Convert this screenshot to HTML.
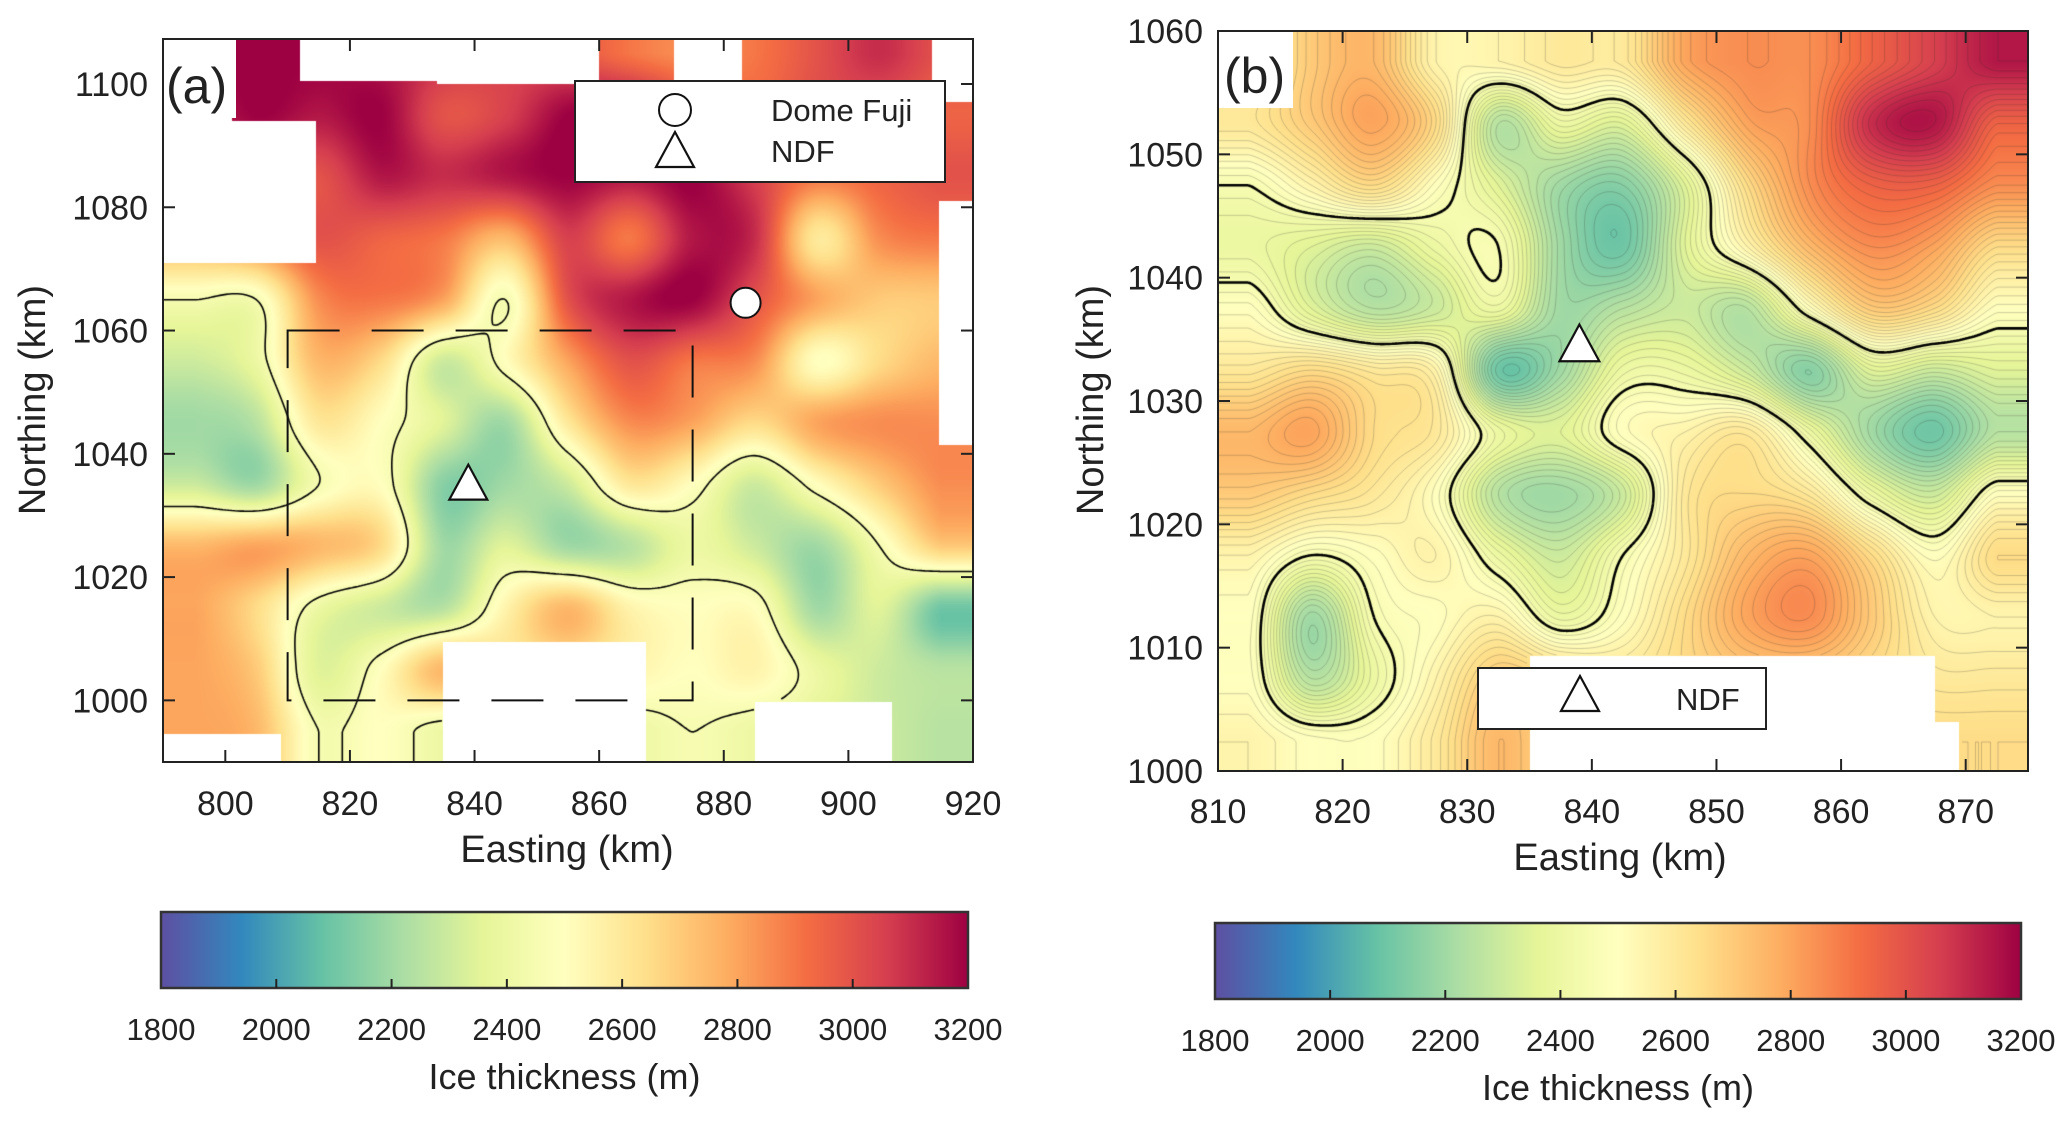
<!DOCTYPE html>
<html><head><meta charset="utf-8">
<style>
html,body{margin:0;padding:0;background:#fff;}
#wrap{position:relative;width:2067px;height:1122px;overflow:hidden;font-family:"Liberation Sans",Arial,sans-serif;}
canvas{position:absolute;}
svg{position:absolute;left:0;top:0;}
</style></head>
<body>
<div id="wrap">
<canvas id="ca"></canvas>
<canvas id="cb"></canvas>
<svg id="ov" width="2067" height="1122"></svg>
</div>
<script>
// ---------- data ----------
const cmapValues = [1800,1940,2080,2220,2360,2500,2640,2780,2920,3060,3200];
const cmapColors = ["#5e4fa2","#3288bd","#66c2a5","#abdda4","#e6f598","#ffffbf","#fee08b","#fdae61","#f46d43","#d53e4f","#9e0142"];
const cbTicks = [1800,2000,2200,2400,2600,2800,3000,3200];

const aEast = [795,805,815,825,835,845,855,865,875,885,895,905,915];
const aNorth = [1105,1095,1085,1075,1065,1055,1045,1035,1025,1015,1005,995];
const aThick = [
[3200,3200,3200,3150,3100,3050,3000,2900,2850,2900,3000,3100,3000],
[3100,3200,3150,3200,3000,3050,3200,3200,3050,2950,3000,3000,2950],
[3000,3050,3000,3150,3100,3150,3200,3150,3200,3050,2900,2950,3000],
[2800,2900,3000,2950,2900,2750,3050,2900,3150,3100,2600,2850,2900],
[2450,2450,2850,2900,2800,2450,3000,3150,3200,3000,2800,2700,2700],
[2300,2400,2750,2650,2300,2500,2800,3000,2900,2850,2500,2650,2750],
[2200,2250,2600,2500,2350,2200,2600,2850,2800,2650,2800,2850,2850],
[2300,2200,2450,2500,2150,2200,2300,2600,2500,2300,2500,2700,2850],
[2750,2800,2750,2650,2200,2350,2200,2250,2400,2300,2200,2450,2700],
[2800,2650,2400,2300,2250,2550,2750,2550,2500,2500,2200,2350,2100],
[2800,2700,2350,2500,2750,2600,2600,2550,2500,2550,2400,2300,2250],
[2800,2750,2450,2500,2400,2400,2400,2400,2450,2400,2350,2300,2250]
];
// no-data regions [east0, east1, north0, north1]
const aNoData = [
[790,801,1094,1108],[790,814.5,1071,1094],[812,834,1100.5,1108],[834,860,1100,1108],
[872,883,1098.5,1108],[913.5,920,1097,1108],[914.5,920,1041.5,1081],
[835,867.5,989,1009.4],[790,809,989,994.5],[885,907,989,999.8]
];
const aXTicks = [800,820,840,860,880,900,920];
const aYTicks = [1000,1020,1040,1060,1080,1100];
const domeFuji = [883.5,1064.5];
const ndf = [839,1035];
const subRegion = [810,875,1000,1060];

const bEast = [812.5,817.5,822.5,827.5,832.5,837.5,842.5,847.5,852.5,857.5,862.5,867.5,872.5];
const bNorth = [1057.5,1052.5,1047.5,1042.5,1037.5,1032.5,1027.5,1022.5,1017.5,1012.5,1007.5,1002.5];
const bThick = [
[2550,2700,2750,2550,2550,2600,2600,2800,2850,2850,2950,3050,3150],
[2600,2700,2800,2650,2250,2400,2350,2600,2800,2850,3100,3150,2950],
[2450,2550,2650,2500,2350,2200,2150,2350,2650,2850,2950,2950,2850],
[2400,2350,2300,2400,2450,2200,2100,2350,2550,2750,2850,2800,2650],
[2500,2350,2250,2300,2400,2200,2250,2300,2250,2500,2700,2650,2500],
[2600,2650,2600,2550,2100,2200,2400,2400,2300,2150,2350,2300,2350],
[2750,2800,2650,2600,2400,2350,2500,2550,2600,2400,2200,2100,2250],
[2700,2650,2600,2500,2250,2200,2300,2600,2650,2600,2400,2300,2500],
[2550,2450,2500,2550,2400,2300,2450,2600,2750,2800,2650,2500,2650],
[2500,2200,2450,2500,2550,2400,2500,2650,2800,2850,2700,2550,2550],
[2500,2250,2400,2550,2700,2650,2600,2650,2700,2700,2650,2600,2600],
[2550,2500,2500,2600,2750,2650,2600,2600,2650,2650,2650,2650,2650]
];
const bNoData = [[835,867.5,999,1009.3],[867.5,869.5,999,1004]];
const bXTicks = [810,820,830,840,850,860,870];
const bYTicks = [1000,1010,1020,1030,1040,1050,1060];
const bNdf = [839,1034.5];
const contourLevel = 2450;

// ---------- helpers ----------
const NS="http://www.w3.org/2000/svg";
const ov=document.getElementById('ov');
function el(tag,attrs,parent){const e=document.createElementNS(NS,tag);for(const k in attrs)e.setAttribute(k,attrs[k]);(parent||ov).appendChild(e);return e;}
function hex(h){return [parseInt(h.slice(1,3),16),parseInt(h.slice(3,5),16),parseInt(h.slice(5,7),16)];}
const cmapRGB=cmapColors.map(hex);
function color(v){
  if(v<=cmapValues[0])return cmapRGB[0];
  for(let i=1;i<cmapValues.length;i++){if(v<=cmapValues[i]){const t=(v-cmapValues[i-1])/(cmapValues[i]-cmapValues[i-1]);const a=cmapRGB[i-1],b=cmapRGB[i];return [a[0]+(b[0]-a[0])*t,a[1]+(b[1]-a[1])*t,a[2]+(b[2]-a[2])*t];}}
  return cmapRGB[cmapRGB.length-1];
}
function cr(p0,p1,p2,p3,t){return 0.5*((2*p1)+(-p0+p2)*t+(2*p0-5*p1+4*p2-p3)*t*t+(-p0+3*p1-3*p2+p3)*t*t*t);}
function makeField(xs,ys,g,mask){
  const dx=xs[1]-xs[0],dy=ys[1]-ys[0],nx=xs.length,ny=ys.length;
  const G=(j,i)=>g[Math.min(ny-1,Math.max(0,j))][Math.min(nx-1,Math.max(0,i))];
  return function(X,Y){
    for(const m of mask){if(X>=m[0]&&X<=m[1]&&Y>=m[2]&&Y<=m[3])return NaN;}
    const fi=Math.min(nx-1,Math.max(0,(X-xs[0])/dx)),fj=Math.min(ny-1,Math.max(0,(Y-ys[0])/dy));
    const i0=Math.min(nx-2,Math.floor(fi)),j0=Math.min(ny-2,Math.floor(fj));
    const tx=fi-i0,ty=fj-j0;const r=[];
    for(let k=-1;k<=2;k++){const j=j0+k;r.push(cr(G(j,i0-1),G(j,i0),G(j,i0+1),G(j,i0+2),tx));}
    return cr(r[0],r[1],r[2],r[3],ty);
  };
}
function drawPanel(canvasId,ax,xs,ys,g,mask,levels){
  const cv=document.getElementById(canvasId);
  const W=ax.x1-ax.x0,H=ax.y1-ax.y0;
  cv.width=W;cv.height=H;cv.style.left=ax.x0+'px';cv.style.top=ax.y0+'px';
  const ctx=cv.getContext('2d');const img=ctx.createImageData(W,H);
  const f=makeField(xs,ys,g,mask);
  const toX=p=>ax.xmin+(p/W)*(ax.xmax-ax.xmin),toY=p=>ax.ymax-(p/H)*(ax.ymax-ax.ymin);
  for(let py=0;py<H;py++){const Y=toY(py+0.5);for(let px=0;px<W;px++){
    const v=f(toX(px+0.5),Y);const o=(py*W+px)*4;
    if(isNaN(v)){img.data[o]=255;img.data[o+1]=255;img.data[o+2]=255;img.data[o+3]=255;}
    else{const c=color(v);img.data[o]=c[0];img.data[o+1]=c[1];img.data[o+2]=c[2];img.data[o+3]=255;}
  }}
  ctx.putImageData(img,0,0);
  const s=3,nx=Math.ceil(W/s)+1,ny=Math.ceil(H/s)+1;
  const F=[];for(let j=0;j<ny;j++){const r=[];for(let i=0;i<nx;i++)r.push(f(toX(i*s),toY(j*s)));F.push(r);}
  levels.forEach(L=>{
    ctx.strokeStyle=L.color;ctx.lineWidth=L.width;ctx.beginPath();
    for(let j=0;j<ny-1;j++)for(let i=0;i<nx-1;i++){
      const a=F[j][i],b=F[j][i+1],c=F[j+1][i+1],d=F[j+1][i];
      if(isNaN(a)||isNaN(b)||isNaN(c)||isNaN(d))continue;
      const lv=L.level,pts=[];const x0=i*s,y0=j*s;
      if((a<lv)!==(b<lv))pts.push([x0+s*(lv-a)/(b-a),y0]);
      if((b<lv)!==(c<lv))pts.push([x0+s,y0+s*(lv-b)/(c-b)]);
      if((c<lv)!==(d<lv))pts.push([x0+s*(1-(lv-c)/(d-c)),y0+s]);
      if((d<lv)!==(a<lv))pts.push([x0,y0+s*(1-(lv-d)/(a-d))]);
      for(let k=0;k+1<pts.length;k+=2){ctx.moveTo(pts[k][0],pts[k][1]);ctx.lineTo(pts[k+1][0],pts[k+1][1]);}
    }
    ctx.stroke();
  });
}

const A={x0:163,x1:973,y0:39,y1:762,xmin:790,xmax:920,ymin:990,ymax:1107.3};
const B={x0:1218,x1:2028,y0:31,y1:771,xmin:810,xmax:875,ymin:1000,ymax:1060};
const sx=(ax,v)=>ax.x0+(v-ax.xmin)/(ax.xmax-ax.xmin)*(ax.x1-ax.x0);
const sy=(ax,v)=>ax.y1-(v-ax.ymin)/(ax.ymax-ax.ymin)*(ax.y1-ax.y0);

drawPanel('ca',A,aEast,aNorth,aThick,aNoData,[{level:contourLevel,color:'#000',width:1.6}]);
const bLevels=[];for(let L=1950;L<=3200;L+=20)bLevels.push({level:L,color:'rgba(40,40,40,0.28)',width:0.8});
bLevels.push({level:contourLevel,color:'#000',width:2.6});
drawPanel('cb',B,bEast,bNorth,bThick,bNoData,bLevels);

// ---------- axes ----------
function axes(ax,xt,yt,id,tickFont,labX,labY){
  const fr=el('rect',{x:ax.x0,y:ax.y0,width:ax.x1-ax.x0,height:ax.y1-ax.y0,fill:'none',stroke:'#222','stroke-width':2});
  
  xt.forEach(v=>{const x=sx(ax,v);
    el('line',{x1:x,y1:ax.y1,x2:x,y2:ax.y1-12,stroke:'#222','stroke-width':2});
    el('line',{x1:x,y1:ax.y0,x2:x,y2:ax.y0+12,stroke:'#222','stroke-width':2});
    const t=el('text',{x:x,y:labY,'text-anchor':'middle','font-size':tickFont,fill:'#222'});t.textContent=v;
    });
  yt.forEach(v=>{const y=sy(ax,v);
    el('line',{x1:ax.x0,y1:y,x2:ax.x0+12,y2:y,stroke:'#222','stroke-width':2});
    el('line',{x1:ax.x1,y1:y,x2:ax.x1-12,y2:y,stroke:'#222','stroke-width':2});
    const t=el('text',{x:labX,y:y+12,'text-anchor':'end','font-size':tickFont,fill:'#222'});t.textContent=v;
    });
}
axes(A,aXTicks,aYTicks,'panel-a',34,148,815);
axes(B,bXTicks,bYTicks,'panel-b',34,1203,823);

function txt(x,y,s,size,name,opts){const t=el('text',Object.assign({x:x,y:y,'font-size':size,fill:'#222'},opts||{}));t.textContent=s;
  return t;}
txt(567,862,'Easting (km)',38,'x-axis-title-a',{'text-anchor':'middle'});
txt(1620,870,'Easting (km)',38,'x-axis-title-b',{'text-anchor':'middle'});
txt(0,0,'Northing (km)',38,'y-axis-title-a',{'text-anchor':'middle',transform:'translate(45,400) rotate(-90)'});
txt(0,0,'Northing (km)',38,'y-axis-title-b',{'text-anchor':'middle',transform:'translate(1103,400) rotate(-90)'});

const la=el('rect',{x:A.x0+1,y:A.y0+1,width:72,height:78,fill:'#fff'});
txt(A.x0+3,A.y0+64,'(a)',50,'panel-a-label');
const lb=el('rect',{x:B.x0+1,y:B.y0+1,width:74,height:76,fill:'#fff'});
txt(B.x0+6,B.y0+62,'(b)',50,'panel-b-label');

const dr=el('rect',{x:sx(A,subRegion[0]),y:sy(A,subRegion[3]),width:sx(A,subRegion[1])-sx(A,subRegion[0]),height:sy(A,subRegion[2])-sy(A,subRegion[3]),fill:'none',stroke:'#111','stroke-width':2,'stroke-dasharray':'52,32'});


function tri(cx,cy,r,name){const p=el('polygon',{points:`${cx},${cy-r} ${cx-r*0.95},${cy+r*0.75} ${cx+r*0.95},${cy+r*0.75}`,fill:'#fff',stroke:'#111','stroke-width':2.2});
  }
const df=el('circle',{cx:sx(A,domeFuji[0]),cy:sy(A,domeFuji[1]),r:15,fill:'#fff',stroke:'#111','stroke-width':2});

tri(sx(A,ndf[0]),sy(A,ndf[1]),20,'ndf-marker-a');
tri(sx(B,bNdf[0]),sy(B,bNdf[1]),21,'ndf-marker-b');

const lga=el('rect',{x:575,y:81,width:370,height:101,fill:'#fff',stroke:'#222','stroke-width':2});
const lc=el('circle',{cx:675,cy:110,r:16,fill:'#fff',stroke:'#111','stroke-width':2});
txt(771,121,'Dome Fuji',31,'legend-entry-dome-fuji');
tri(675,152,20,'legend-ndf-symbol-a');
txt(771,162,'NDF',31,'legend-entry-ndf-a');
const lgb=el('rect',{x:1478,y:668,width:288,height:61,fill:'#fff',stroke:'#222','stroke-width':2});
tri(1580,696,20,'legend-ndf-symbol-b');
txt(1676,710,'NDF',31,'legend-entry-ndf-b');

const defs=el('defs',{});const gr=el('linearGradient',{id:'cg',x1:0,x2:1,y1:0,y2:0},defs);
cmapValues.forEach((v,i)=>el('stop',{offset:(v-1800)/1400,'stop-color':cmapColors[i]},gr));
function colorbar(x0,x1,y0,y1,name,labY,titleY){
  const r=el('rect',{x:x0,y:y0,width:x1-x0,height:y1-y0,fill:'url(#cg)',stroke:'#333','stroke-width':2.5});
  
  cbTicks.forEach(v=>{const x=x0+(v-1800)/1400*(x1-x0);
    if(v>1800&&v<3200)el('line',{x1:x,y1:y1,x2:x,y2:y1-9,stroke:'#222','stroke-width':2});
    txt(x,labY,v,31,name+'-tick-label',{'text-anchor':'middle'});});
  txt((x0+x1)/2,titleY,'Ice thickness (m)',36,name+'-title',{'text-anchor':'middle'});
}
colorbar(161,968,912,988,'colorbar-a',1040,1089);
colorbar(1215,2021,923,999,'colorbar-b',1051,1100);
</script>
</body></html>
